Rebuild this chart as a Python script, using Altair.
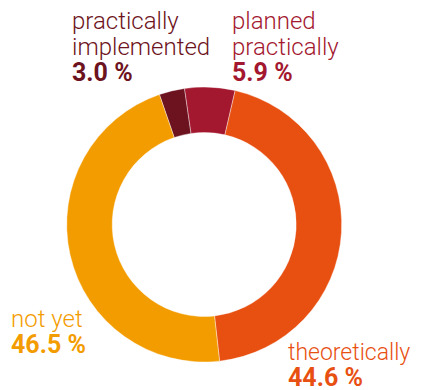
import math
import altair as alt
import pandas as pd

categories = ["practically implemented", "planned practically", "theoretically", "not yet"]
values = [3.0, 5.9, 44.6, 46.5]
colors = ["#6d1320", "#a3182f", "#e85012", "#f39c00"]
label_lines = [["practically", "implemented"], ["planned", "practically"], ["theoretically"], ["not yet"]]

df = pd.DataFrame({"category": categories, "value": values, "idx": list(range(len(categories)))})

start = -0.332
CX, CY = 196.2, 216.5

arc = alt.Chart(df).mark_arc(innerRadius=92, outerRadius=137.5, stroke="white", strokeWidth=0.4).encode(
    theta=alt.Theta("value:Q", stack=True, scale=alt.Scale(range=[start, start + 2 * math.pi])),
    order=alt.Order("idx:Q"),
    color=alt.Color("category:N", scale=alt.Scale(domain=categories, range=colors), legend=None),
    x=alt.value(CX),
    y=alt.value(CY),
)

# label layout (anchor x, first baseline y, name font size)
layout = {
    "practically implemented": (64, 21, 24),
    "planned practically": (224, 21, 24),
    "not yet": (3, 319, 24),
    "theoretically": (280, 351.5, 23),
}
LINE = 26
FONT = "Roboto"

layers = [arc]
for cat, val, col, lines in zip(categories, values, colors, label_lines):
    x0, y0, fs = layout[cat]
    row = pd.DataFrame({"category": [cat], "value": [val]})
    for k, line in enumerate(lines):
        layers.append(
            alt.Chart(row).mark_text(
                text=line, align="left", baseline="alphabetic", font=FONT, fontSize=fs,
                fontWeight=300, color=col
            ).encode(x=alt.value(x0), y=alt.value(y0 + k * LINE))
        )
    layers.append(
        alt.Chart(row).transform_calculate(
            lab="format(datum.value, '.1f') + ' %'"
        ).mark_text(
            align="left", baseline="alphabetic", font=FONT, fontSize=25, fontWeight="bold", color=col
        ).encode(text="lab:N", x=alt.value(x0), y=alt.value(y0 + len(lines) * LINE))
    )

chart = alt.layer(*layers).properties(
    width=406, height=382, autosize=alt.AutoSizeParams(type="none"), padding=0
).configure_view(stroke=None)

chart.save("out.html", embed_options={"renderer": "svg", "actions": False})
